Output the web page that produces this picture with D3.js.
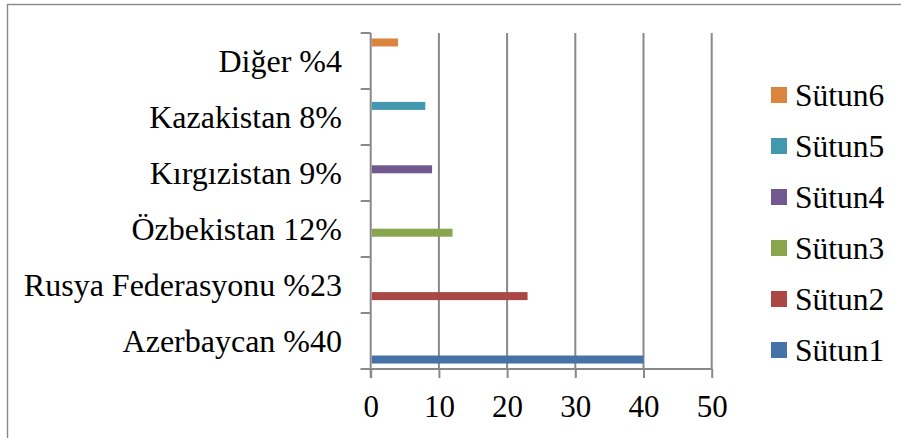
<!DOCTYPE html>
<html>
<head>
<meta charset="utf-8">
<script src="https://cdn.jsdelivr.net/npm/d3@7"></script>
<style>
  html, body { margin: 0; padding: 0; background: #fff; }
  svg { display: block; }
  text { font-family: "Liberation Serif", "Times New Roman", serif; fill: #000; }
</style>
</head>
<body>
<svg id="chart" width="901" height="438"></svg>
<script>
// Categories, listed bottom to top as they appear on the axis
const categories = ["Azerbaycan %40", "Rusya Federasyonu %23", "Özbekistan 12%", "Kırgızistan 9%", "Kazakistan 8%", "Diğer %4"];

// Series names and their values per category (null = no bar)
const seriesNames = ["Sütun1", "Sütun2", "Sütun3", "Sütun4", "Sütun5", "Sütun6"];
const sutun1 = [40, null, null, null, null, null];
const sutun2 = [null, 23, null, null, null, null];
const sutun3 = [null, null, 12, null, null, null];
const sutun4 = [null, null, null, 9, null, null];
const sutun5 = [null, null, null, null, 8, null];
const sutun6 = [null, null, null, null, null, 4];
const seriesValues = [sutun1, sutun2, sutun3, sutun4, sutun5, sutun6];

const seriesColors = ["#4672A8", "#AA4643", "#89A54E", "#71588F", "#4198AF", "#DB843D"];

// Value axis ticks
const xTicks = [0, 10, 20, 30, 40, 50];

const FONT = "Liberation Serif, Times New Roman, serif";
const svg = d3.select("#chart");
const gridColor = "#898989";

// Chart area frame
svg.append("rect")
  .attr("x", 7.5).attr("y", 4.5)
  .attr("width", 1200).attr("height", 1200)
  .attr("fill", "none")
  .attr("stroke", gridColor)
  .attr("stroke-width", 1.4);

const plot = { left: 370.7, right: 711.7, top: 33, bottom: 369 };

const x = d3.scaleLinear().domain([0, 50]).range([plot.left, plot.right]);

// Categories run from bottom (first) to top (last)
const y = d3.scaleBand()
  .domain(categories)
  .range([plot.bottom, plot.top])
  .padding(0);

// Series slots inside each category: Sütun1 at the bottom, Sütun6 at the top
const ySeries = d3.scaleBand()
  .domain(seriesNames.slice().reverse())
  .range([0, y.bandwidth()])
  .paddingInner(0)
  .paddingOuter(0.78);

// Vertical gridlines
svg.append("g")
  .selectAll("line")
  .data(xTicks.filter(d => d > 0))
  .join("line")
  .attr("x1", d => x(d)).attr("x2", d => x(d))
  .attr("y1", plot.top).attr("y2", plot.bottom)
  .attr("stroke", gridColor)
  .attr("stroke-width", 2);

// Bars
const barH = 8;
seriesNames.forEach((name, si) => {
  const rows = categories.map((c, i) => ({ cat: c, v: seriesValues[si][i] }))
    .filter(d => d.v != null);
  svg.append("g")
    .selectAll("rect")
    .data(rows)
    .join("rect")
    .attr("x", x(0) + 1)
    .attr("y", d => y(d.cat) + ySeries(name) + (ySeries.bandwidth() - barH) / 2)
    .attr("width", d => x(d.v) - x(0) - 1)
    .attr("height", barH)
    .attr("fill", seriesColors[si]);
});

// Category (left) axis line, running down past the value axis
svg.append("line")
  .attr("x1", x(0)).attr("x2", x(0))
  .attr("y1", plot.top).attr("y2", plot.bottom + 9)
  .attr("stroke", gridColor).attr("stroke-width", 2);
// Tick marks at category boundaries
const boundaries = categories.map(c => y(c)).concat([plot.bottom]);
svg.append("g")
  .selectAll("line")
  .data(boundaries)
  .join("line")
  .attr("x1", x(0) - 10).attr("x2", x(0))
  .attr("y1", d => d).attr("y2", d => d)
  .attr("stroke", gridColor).attr("stroke-width", 2);

// Category labels
svg.append("g")
  .selectAll("text")
  .data(categories)
  .join("text")
  .attr("x", 342)
  .attr("y", d => y(d) + y.bandwidth() / 2 + 11)
  .attr("text-anchor", "end")
  .attr("font-family", FONT)
  .attr("font-size", 32)
  .text(d => d);

// Value (bottom) axis
const xAxis = d3.axisBottom(x).tickValues(xTicks).tickSize(9).tickFormat(d3.format("d"));
const xAxisG = svg.append("g").attr("transform", `translate(0,${plot.bottom})`).call(xAxis);
xAxisG.select(".domain").remove();
xAxisG.selectAll(".tick line").attr("stroke", gridColor).attr("stroke-width", 2);
xAxisG.selectAll(".tick text")
  .attr("y", 48).attr("dy", null)
  .attr("font-size", 31)
  .attr("font-family", FONT)
  .attr("fill", "#000");
svg.append("line")
  .attr("x1", x(0) - 10).attr("x2", x(50))
  .attr("y1", plot.bottom).attr("y2", plot.bottom)
  .attr("stroke", gridColor).attr("stroke-width", 2);

// Legend, Sütun6 on top down to Sütun1
const legendOrder = seriesNames.map((n, i) => ({ name: n, color: seriesColors[i] })).reverse();
const legend = svg.append("g")
  .selectAll("g")
  .data(legendOrder)
  .join("g")
  .attr("transform", (d, i) => `translate(771,${95 + i * 51})`);
legend.append("rect")
  .attr("x", 0).attr("y", -8)
  .attr("width", 16).attr("height", 16)
  .attr("fill", d => d.color);
legend.append("text")
  .attr("x", 24).attr("y", 11)
  .attr("font-family", FONT)
  .attr("font-size", 31.5)
  .text(d => d.name);
</script>
</body>
</html>
